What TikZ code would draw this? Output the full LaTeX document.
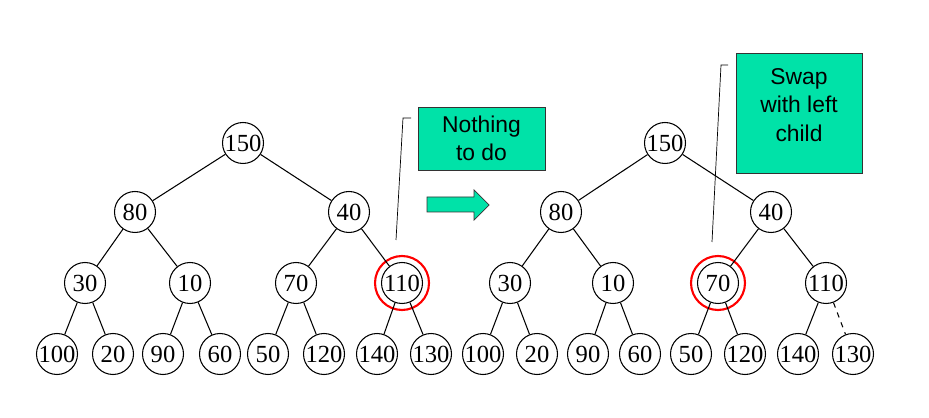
\documentclass[tikz,border=0pt]{standalone}
\usepackage{fontspec}
\setmainfont{Liberation Serif}
\newfontfamily\boxfont{Liberation Sans}
\definecolor{noteGreen}{RGB}{0,226,168}
\begin{document}
\begin{tikzpicture}
[x=0.02cm,y=-0.02cm,%
  lineDecorate/.style={-,semithick},%
  nodeDecorate/.style={shape=circle,inner sep=0pt,minimum size=0.82cm,draw,semithick,font=\fontsize{14}{15}\selectfont},%
  markDecorate/.style={shape=circle,minimum size=1.08cm,draw=red,line width=1.2pt},%
  noteDecorate/.style={draw=black!80,fill=noteGreen,inner sep=0pt,font=\boxfont\fontsize{13}{16}\selectfont,align=center}]
\useasboundingbox (0,0) rectangle (929,418);
%% left tree: nodes
\node (la) at (243,143) [nodeDecorate] {150};
\node (lb) at (135,212) [nodeDecorate] {80};
\node (lc) at (349,212) [nodeDecorate] {40};
\node (ld) at (85,283) [nodeDecorate] {30};
\node (le) at (190,283) [nodeDecorate] {10};
\node (lf) at (296,283) [nodeDecorate] {70};
\node (lg) at (402,283) [nodeDecorate] {110};
\node (lh) at (57,354) [nodeDecorate] {100};
\node (li) at (113,354) [nodeDecorate] {20};
\node (lj) at (163,354) [nodeDecorate] {90};
\node (lk) at (220,354) [nodeDecorate] {60};
\node (ll) at (268,354) [nodeDecorate] {50};
\node (lm) at (324,354) [nodeDecorate] {120};
\node (ln) at (377,354) [nodeDecorate] {140};
\node (lo) at (431,354) [nodeDecorate] {130};
\node (lmark) at (lg) [markDecorate] {};
%% left tree: edges
\path (la) edge[lineDecorate] (lb) (la) edge[lineDecorate] (lc);
\path (lb) edge[lineDecorate] (ld) (lb) edge[lineDecorate] (le);
\path (lc) edge[lineDecorate] (lf) (lc) edge[lineDecorate] (lg);
\path (ld) edge[lineDecorate] (lh) (ld) edge[lineDecorate] (li);
\path (le) edge[lineDecorate] (lj) (le) edge[lineDecorate] (lk);
\path (lf) edge[lineDecorate] (ll) (lf) edge[lineDecorate] (lm);
\path (lg) edge[lineDecorate] (ln) (lg) edge[lineDecorate] (lo);
%% right tree: nodes
\node (ra) at (665,143) [nodeDecorate] {150};
\node (rb) at (561,212) [nodeDecorate] {80};
\node (rc) at (771,212) [nodeDecorate] {40};
\node (rd) at (510,283) [nodeDecorate] {30};
\node (re) at (613,283) [nodeDecorate] {10};
\node (rf) at (718,283) [nodeDecorate] {70};
\node (rg) at (826,283) [nodeDecorate] {110};
\node (rh) at (483,354) [nodeDecorate] {100};
\node (ri) at (537,354) [nodeDecorate] {20};
\node (rj) at (588,354) [nodeDecorate] {90};
\node (rk) at (640,354) [nodeDecorate] {60};
\node (rl) at (691,354) [nodeDecorate] {50};
\node (rm) at (745,354) [nodeDecorate] {120};
\node (rn) at (798,354) [nodeDecorate] {140};
\node (ro) at (853,354) [nodeDecorate] {130};
\node (rmark) at (rf) [markDecorate] {};
%% right tree: edges
\path (ra) edge[lineDecorate] (rb) (ra) edge[lineDecorate] (rc);
\path (rb) edge[lineDecorate] (rd) (rb) edge[lineDecorate] (re);
\path (rc) edge[lineDecorate] (rf) (rc) edge[lineDecorate] (rg);
\path (rd) edge[lineDecorate] (rh) (rd) edge[lineDecorate] (ri);
\path (re) edge[lineDecorate] (rj) (re) edge[lineDecorate] (rk);
\path (rf) edge[lineDecorate] (rl) (rf) edge[lineDecorate] (rm);
\path (rg) edge[lineDecorate] (rn) (rg) edge[lineDecorate,dashed] (ro);
%% notes and callouts
\node (nothing) at (481.5,138.5) [noteDecorate,minimum width=2.54cm,minimum height=1.26cm] {Nothing\\to do};
\node (swap) at (799,113) [noteDecorate,minimum width=2.52cm,minimum height=2.4cm] {};
\node (swaptext) at (swap.north) [anchor=north,yshift=-0.2cm,font=\boxfont\fontsize{13}{16}\selectfont,align=center] {Swap\\with left\\child};
\coordinate (lcallTop) at (403,118);
\coordinate (lcallEnd) at (411,118);
\coordinate (lcallFoot) at (396,240);
\draw[thin] (lcallEnd) -- (lcallTop) -- (lcallFoot);
\coordinate (rcallTop) at (721,65);
\coordinate (rcallEnd) at (728,65);
\coordinate (rcallFoot) at (712,242);
\draw[thin] (rcallEnd) -- (rcallTop) -- (rcallFoot);
%% block arrow
\draw[draw=black!80,fill=noteGreen] (427,197) -- (474,197) -- (474,190) -- (489,205) -- (474,220) -- (474,212) -- (427,212) -- cycle;
\end{tikzpicture}
\end{document}
